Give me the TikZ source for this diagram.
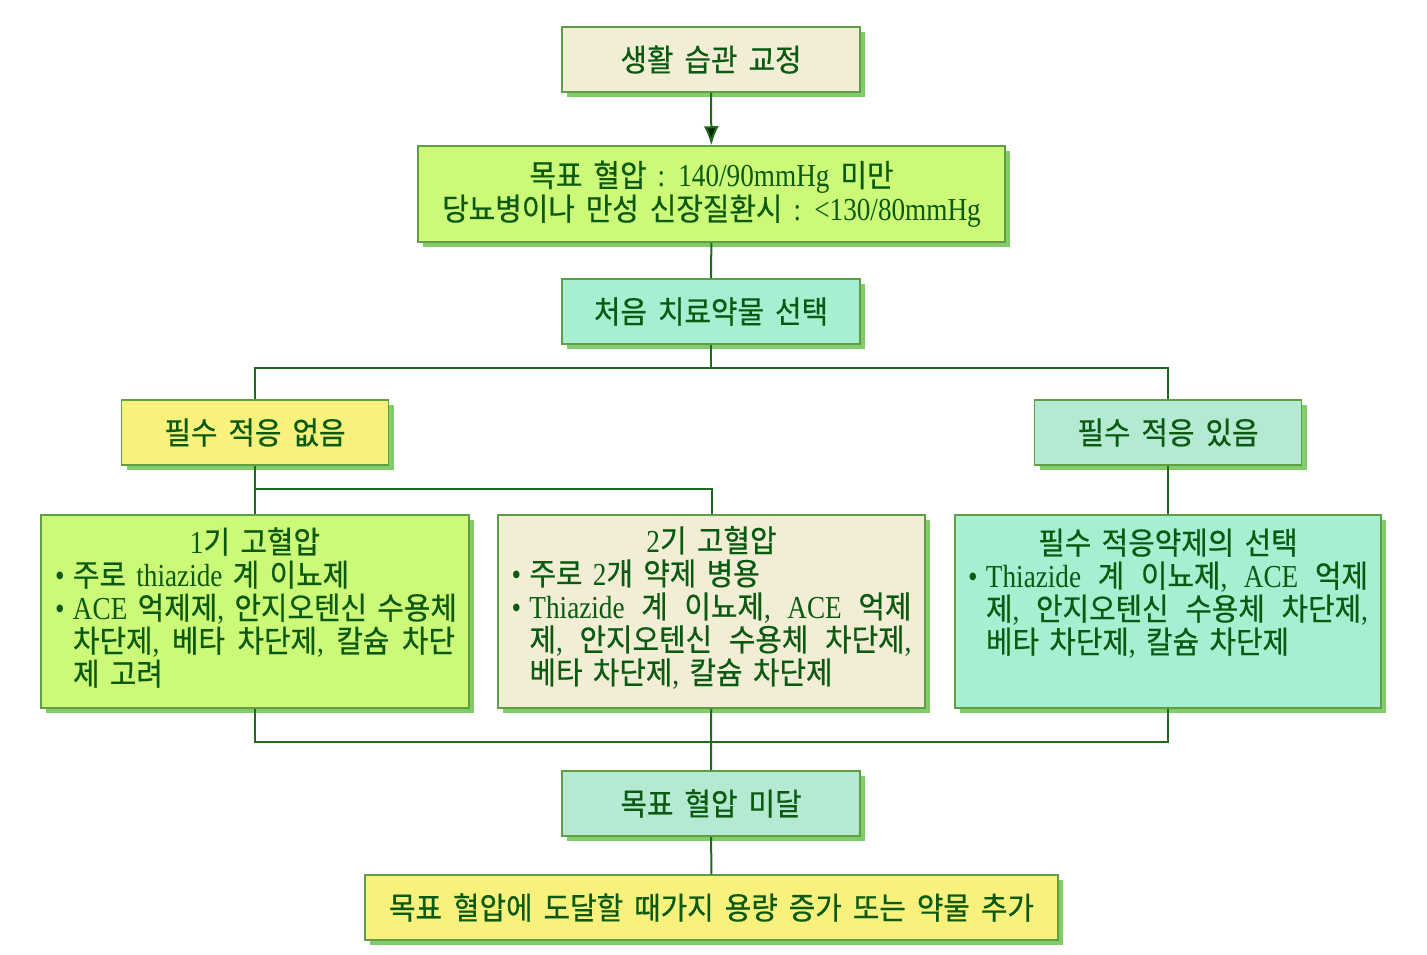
\documentclass[tikz,border=0pt]{standalone}
\usepackage{fontspec}
\setmainfont{Noto Sans CJK KR}[FakeStretch=0.93, FakeBold=0.6]
\newfontfamily\latf{Liberation Serif}[FakeStretch=0.85]
\usetikzlibrary{arrows.meta,shadows}
\definecolor{txt}{HTML}{0C5A12}
\definecolor{lin}{HTML}{1E6A1E}
\definecolor{brd}{HTML}{5E9E45}
\definecolor{shd}{HTML}{82CC6C}
\definecolor{beige}{HTML}{F2EED6}
\definecolor{lgreen}{HTML}{CCFA78}
\definecolor{aqua}{HTML}{A8EED0}
\definecolor{paqua}{HTML}{B4EAD2}
\definecolor{yel}{HTML}{F8F27C}
\newcommand\myfont{\fontsize{31}{33}\selectfont\spaceskip 11pt plus 6pt minus 3pt\relax}
\newcommand\myfontb{\fontsize{31}{32}\selectfont\spaceskip 11pt plus 6pt minus 3pt\relax}
\newcommand\la[1]{{\latf\fontsize{32}{33}\selectfont #1}}
\newcommand\cm{\la{,}}
\newcommand\bul{\makebox[18pt][l]{\la{•}}}
\newcommand\full[1]{\makebox[382pt][s]{#1}}
\newcommand\sk{\hspace{0pt plus 1fil}}
\newcommand\ind{\hspace*{18pt}}
\begin{document}
\begin{tikzpicture}[x=1pt,y=-1pt,
  every node/.style={font=\myfont, text=txt},
  box/.style={draw=brd, line width=1.5pt, inner sep=0pt, align=center,
    drop shadow={shadow xshift=5pt, shadow yshift=-5pt, fill=shd, opacity=1}},
  big/.style={inner sep=0pt, text width=400pt, align=left},
  conn/.style={draw=lin, line width=2pt}]
\useasboundingbox[fill=white] (0,0) rectangle (1427,955);
\node[box, fill=beige, minimum width=298pt, minimum height=65pt] (b1) at (711,59.5) {생활 습관 교정};
\node[box, fill=lgreen, minimum width=587pt, minimum height=96pt, font=\myfontb] (b2) at (711.5,194)
  {목표 혈압 \la{: 140/90mmHg} 미만\\당뇨병이나 만성 신장질환시 \la{: <130/80mmHg}};
\node[box, fill=aqua, minimum width=298pt, minimum height=65pt] (b3) at (711,311.5) {처음 치료약물 선택};
\node[box, fill=yel, minimum width=267pt, minimum height=65pt] (b4) at (255,432.5) {필수 적응 없음};
\node[box, fill=paqua, minimum width=267pt, minimum height=65pt] (b5) at (1168,432.5) {필수 적응 있음};
\node[box, fill=lgreen, minimum width=428pt, minimum height=193pt] (b6) at (255,611.5) {};
\node[box, fill=beige, minimum width=427pt, minimum height=193pt] (b7) at (711.5,611.5) {};
\node[box, fill=aqua, minimum width=426pt, minimum height=193pt] (b8) at (1168,611.5) {};
\node[big] (t6) at ([yshift=4pt]b6.center) {%
  \makebox[400pt][c]{\la{1}기 고혈압}\\
  \bul 주로 \la{thiazide} 계 이뇨제\\
  \bul\full{\la{ACE}\sk\ 억제제\cm\sk\ 안지오텐신\sk\ 수용체}\\
  \ind\full{차단제\cm\sk\ 베타\sk\ 차단제\cm\sk\ 칼슘\sk\ 차단}\\
  \ind 제 고려};
\node[big] (t7) at ([yshift=4pt]b7.center) {%
  \makebox[400pt][c]{\la{2}기 고혈압}\\
  \bul 주로 \la{2}개 약제 병용\\
  \bul\full{\la{Thiazide}\sk\ 계\sk\ 이뇨제\cm\sk\ \la{ACE}\sk\ 억제}\\
  \ind\full{제\cm\sk\ 안지오텐신\sk\ 수용체\sk\ 차단제\cm}\\
  \ind 베타 차단제\cm{} 칼슘 차단제};
\node[big] (t8) at ([yshift=4pt]b8.center) {%
  \makebox[400pt][c]{필수 적응약제의 선택}\\
  \bul\full{\la{Thiazide}\sk\ 계\sk\ 이뇨제\cm\sk\ \la{ACE}\sk\ 억제}\\
  \ind\full{제\cm\sk\ 안지오텐신\sk\ 수용체\sk\ 차단제\cm}\\
  \ind 베타 차단제\cm{} 칼슘 차단제\\
  \mbox{}};
\node[box, fill=paqua, minimum width=298pt, minimum height=65pt] (b9) at (711,803.5) {목표 혈압 미달};
\node[box, fill=yel, minimum width=693pt, minimum height=65pt] (b10) at (711.5,907.5) {목표 혈압에 도달할 때가지 용량 증가 또는 약물 추가};
% connectors
\draw[conn, -{Latex[length=19pt,width=15pt,fill=black!85!green]}] (b1) -- (b2);
\draw[conn] (b2) -- (b3);
\draw[conn] (b3.south) -- ++(0,23) coordinate (j1);
\draw[conn] (b4.north) |- (j1) -| (b5.north);
\draw[conn] (b4) -- (b6);
\draw[conn] (b5) -- (b8);
\draw[conn] (b6.north) ++(0,-25) coordinate (j2) -| (b7.north);
\draw[conn] (b6.south) -- ++(0,33) coordinate (j3) -| (b8.south);
\draw[conn] (b7) -- (b9);
\draw[conn] (b9) -- (b10);
\end{tikzpicture}
\end{document}
